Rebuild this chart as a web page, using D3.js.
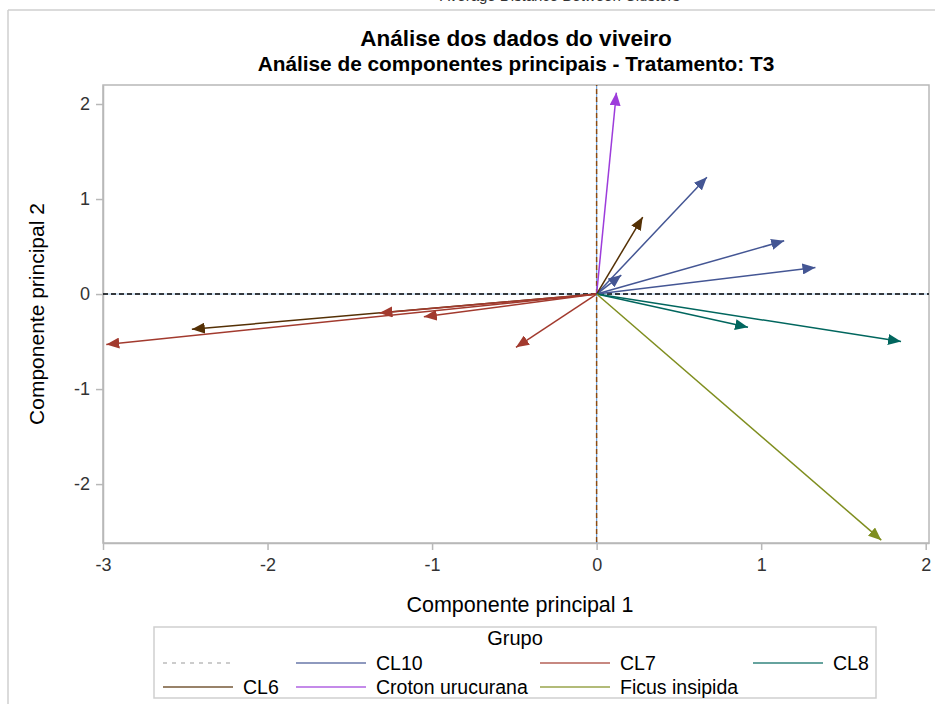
<!DOCTYPE html>
<html>
<head>
<meta charset="utf-8">
<script src="https://cdn.jsdelivr.net/npm/d3@7"></script>
<style>
  body { margin: 0; background: #fff; }
  svg text { font-family: "Liberation Sans", Arial, sans-serif; }
</style>
</head>
<body>
<svg id="chart" width="935" height="704"></svg>
<script>
// groups and their colours (SAS HTMLBlue data colours)
const groups = ['CL10', 'CL7', 'CL8', 'CL6', 'Croton urucurana', 'Ficus insipida'];
const groupColors = ['#445694', '#A23A2E', '#01665E', '#543005', '#9D3CDB', '#7F8E1F'];

// loading vectors
const vecGroup = ['Croton urucurana', 'CL10', 'CL10', 'CL10', 'CL10', 'CL6', 'CL6',
                  'CL7', 'CL7', 'CL7', 'CL7', 'CL8', 'CL8', 'Ficus insipida'];
const vecX = [0.12, 0.67, 1.14, 1.33, 0.15, 0.28, -2.46, -2.98, -1.32, -1.05, -0.49, 0.92, 1.85, 1.73];
const vecY = [2.12, 1.23, 0.56, 0.28, 0.20, 0.81, -0.37, -0.53, -0.20, -0.24, -0.56, -0.35, -0.50, -2.59];

const xTicks = [-3, -2, -1, 0, 1, 2];
const yTicks = [-2, -1, 0, 1, 2];

const svg = d3.select('#chart');
const plotL = 103, plotR = 929, plotT = 85, plotB = 543;

const x = d3.scaleLinear().domain([-3.0, 2.02]).range([plotL, plotR]);
const y = d3.scaleLinear().domain([-2.62, 2.2]).range([plotB, plotT]);
const color = d3.scaleOrdinal().domain(groups).range(groupColors);

// outer frame bits and the clipped heading from the page above
svg.append('line').attr('x1', 8).attr('x2', 935).attr('y1', 10).attr('y2', 10)
  .attr('stroke', '#cfcfcf').attr('stroke-width', 1.5);
svg.append('line').attr('x1', 8).attr('x2', 8).attr('y1', 10).attr('y2', 704)
  .attr('stroke', '#cfcfcf').attr('stroke-width', 1.5);
svg.append('text').attr('x', 560).attr('y', 1).attr('text-anchor', 'middle')
  .attr('font-size', 15).attr('fill', '#333').text('Average Distance Between Clusters');

// titles
svg.append('text').attr('x', 516).attr('y', 46).attr('text-anchor', 'middle')
  .attr('font-size', 22.5).attr('font-weight', 'bold').attr('fill', '#000')
  .text('Análise dos dados do viveiro');
svg.append('text').attr('x', 516).attr('y', 71).attr('text-anchor', 'middle')
  .attr('font-size', 20.8).attr('font-weight', 'bold').attr('fill', '#000')
  .text('Análise de componentes principais - Tratamento: T3');

// plot frame
svg.append('rect').attr('x', plotL).attr('y', plotT)
  .attr('width', plotR - plotL).attr('height', plotB - plotT)
  .attr('fill', 'none').attr('stroke', '#b8b8b8').attr('stroke-width', 1.5);

// axes
const fmt = d => String(d);
const xAxis = svg.append('g').attr('transform', `translate(0,${plotB})`)
  .call(d3.axisBottom(x).tickValues(xTicks).tickFormat(fmt).tickSize(7).tickSizeOuter(0).tickPadding(8));
const yAxis = svg.append('g').attr('transform', `translate(${plotL},0)`)
  .call(d3.axisLeft(y).tickValues(yTicks).tickFormat(fmt).tickSize(7).tickSizeOuter(0).tickPadding(6));
[xAxis, yAxis].forEach(a => {
  a.select('.domain').attr('stroke', '#b8b8b8').attr('stroke-width', 1.5);
  a.selectAll('.tick line').attr('stroke', '#b8b8b8').attr('stroke-width', 1.5);
  a.selectAll('.tick text').attr('font-size', 18).attr('fill', '#333')
    .attr('font-family', '"Liberation Sans", Arial, sans-serif');
});

svg.append('text').attr('x', 520).attr('y', 612).attr('text-anchor', 'middle')
  .attr('font-size', 21.5).attr('fill', '#000').text('Componente principal 1');
svg.append('text').attr('transform', `translate(44,${(plotT + plotB) / 2}) rotate(-90)`)
  .attr('text-anchor', 'middle').attr('font-size', 21).attr('fill', '#000')
  .text('Componente principal 2');

// reference lines at 0
const ref = svg.append('g');
ref.append('line').attr('x1', plotL).attr('x2', plotR).attr('y1', y(0)).attr('y2', y(0))
  .attr('stroke', '#9fc3e6').attr('stroke-width', 1);
ref.append('line').attr('x1', plotL).attr('x2', plotR).attr('y1', y(0)).attr('y2', y(0))
  .attr('stroke', '#000').attr('stroke-width', 1.6).attr('stroke-dasharray', '5,3');
ref.append('line').attr('x1', x(0)).attr('x2', x(0)).attr('y1', plotT).attr('y2', plotB)
  .attr('stroke', '#6f9fd8').attr('stroke-width', 1.2).attr('stroke-dasharray', '4,4');
ref.append('line').attr('x1', x(0)).attr('x2', x(0)).attr('y1', plotT).attr('y2', plotB)
  .attr('stroke', '#8a4b12').attr('stroke-width', 1.5).attr('stroke-dasharray', '5,3')
  .attr('stroke-dashoffset', 4);

// arrowheads, one per group
const defs = svg.append('defs');
groups.forEach((g, i) => {
  defs.append('marker').attr('id', 'arr' + i)
    .attr('viewBox', '0 0 13 11').attr('refX', 13).attr('refY', 5.5)
    .attr('markerWidth', 13).attr('markerHeight', 11)
    .attr('markerUnits', 'userSpaceOnUse').attr('orient', 'auto')
    .append('path').attr('d', 'M0,0 L13,5.5 L0,11 Z').attr('fill', groupColors[i]);
});

// vectors
const vectors = vecX.map((v, i) => ({ g: vecGroup[i], x: v, y: vecY[i] }));
svg.append('g').selectAll('line').data(vectors).join('line')
  .attr('x1', x(0)).attr('y1', y(0))
  .attr('x2', d => x(d.x)).attr('y2', d => y(d.y))
  .attr('stroke', d => color(d.g)).attr('stroke-width', 1.5)
  .attr('marker-end', d => `url(#arr${groups.indexOf(d.g)})`);

// legend
const lg = svg.append('g');
lg.append('rect').attr('x', 154).attr('y', 627).attr('width', 722).attr('height', 71)
  .attr('fill', '#fff').attr('stroke', '#cfcfcf').attr('stroke-width', 1.5);
lg.append('text').attr('x', 515).attr('y', 645).attr('text-anchor', 'middle')
  .attr('font-size', 20).attr('fill', '#000').text('Grupo');

const legendItems = [{ label: '', dash: true }].concat(groups.map(g => ({ label: g, dash: false })));
const colX = [163, 296, 540, 753];
const rowY = [663, 687];
const placeOf = i => i < 4 ? [colX[i], rowY[0]] : [colX[i - 4], rowY[1]];
legendItems.forEach((d, i) => {
  const [px, py] = placeOf(i);
  lg.append('line').attr('x1', px).attr('x2', px + 70).attr('y1', py).attr('y2', py)
    .attr('stroke', d.dash ? '#999' : color(d.label))
    .attr('stroke-width', d.dash ? 1 : 1.6)
    .attr('stroke-opacity', d.dash ? 1 : 0.8)
    .attr('stroke-dasharray', d.dash ? '4,5' : null);
  if (d.label) {
    lg.append('text').attr('x', px + 80).attr('y', py + 7)
      .attr('font-size', 19.5).attr('fill', '#000').text(d.label);
  }
});
</script>
</body>
</html>
